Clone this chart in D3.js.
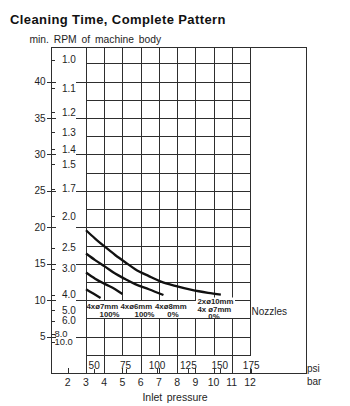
<!DOCTYPE html>
<html>
<head>
<meta charset="utf-8">
<script src="https://cdn.jsdelivr.net/npm/d3@7"></script>
<style>
  html, body { margin: 0; padding: 0; background: #fff; }
  svg { display: block; font-family: "Liberation Sans", Arial, Helvetica, sans-serif; }
</style>
</head>
<body>
<svg id="chart" width="350" height="406"></svg>
<script>
// Inlet pressure in bar, with the psi equivalents printed in the bottom row
const barTicks = [2, 3, 4, 5, 6, 7, 8, 9, 10, 11, 12];
const psiTicks = [50, 75, 100, 125, 150, 175];

// Rotation speed of the machine body and the matching cleaning time (min)
const rpmTicks = [5, 10, 15, 20, 25, 30, 35, 40];
const timeTicks = [1.0, 1.1, 1.2, 1.3, 1.4, 1.5, 1.7, 2.0, 2.5, 3.0, 4.0, 5.0, 6.0, 8.0, 10.0];
const TIME_RPM = 43; // cleaning time (min) = 43 / RPM

// One curve per nozzle set: [inlet pressure (bar), min. RPM]
const rpm4x7 = [[3.0, 11.5], [3.4, 10.9], [3.8, 10.3]];
const rpm4x6 = [[3.0, 13.8], [3.5, 12.95], [4.05, 12.2], [4.6, 11.5], [5.0, 10.85]];
const rpm4x8 = [[3.0, 16.4], [3.5, 15.5], [4.05, 14.6], [4.6, 13.65], [5.15, 12.9],
                [5.7, 12.2], [6.45, 11.5], [7.25, 10.7]];
const rpm2x10 = [[3.0, 19.6], [3.5, 18.45], [4.05, 17.3], [4.6, 16.2], [5.15, 15.2],
                 [5.7, 14.25], [6.45, 13.3], [7.15, 12.5], [7.9, 11.95], [8.8, 11.4],
                 [9.7, 11.0], [10.4, 10.75]];

// Nozzle set names and the share of each set, in the order of the curves above
const nozzleNames = [["4xø7mm"], ["4xø6mm"], ["4xø8mm"], ["2xø10mm", "4x  ø7mm"]];
const nozzleShares = ["100%", "100%", "0%", "0%"];
const rpmCurves = [rpm4x7, rpm4x6, rpm4x8, rpm2x10];

const svg = d3.select("#chart");
const ink = "#1e1e1e";
const rule = "#2e2e2e";

const x = d3.scaleLinear().domain([3, 12]).range([86, 250]);
const y = d3.scaleLinear().domain([0, 44.75]).range([373, 47]);
const psiToBar = p => p / 14.5038;
const crisp = v => Math.round(v) + 0.5;

const frame = { left: 51, right: 306, top: y(44.75), bottom: y(0) };
const gridBars = d3.range(3, 13);
const gridRpm = d3.range(2.5, 43, 2.5);

// outer frame
svg.append("rect")
  .attr("x", crisp(frame.left)).attr("y", crisp(frame.top))
  .attr("width", Math.round(frame.right - frame.left))
  .attr("height", Math.round(frame.bottom - frame.top))
  .attr("fill", "none").attr("stroke", rule);

// grid
const grid = svg.append("g").attr("stroke", rule).attr("stroke-width", 1);
grid.selectAll("line.v").data(gridBars).join("line").attr("class", "v")
  .attr("x1", d => crisp(x(d))).attr("x2", d => crisp(x(d)))
  .attr("y1", crisp(frame.top)).attr("y2", crisp(frame.bottom));
grid.selectAll("line.h").data(gridRpm).join("line").attr("class", "h")
  .attr("x1", crisp(x(3))).attr("x2", crisp(x(12)))
  .attr("y1", d => crisp(y(d))).attr("y2", d => crisp(y(d)));

// blank row for the nozzle captions (between 7.5 and 10 RPM)
svg.append("rect")
  .attr("x", crisp(x(3)) + 0.5).attr("y", crisp(y(10)) + 0.5)
  .attr("width", crisp(x(12)) - crisp(x(3)) - 1)
  .attr("height", crisp(y(7.5)) - crisp(y(10)) - 1)
  .attr("fill", "#fff");

// psi labels in the bottom row, each on a white patch
const rowTop = crisp(y(2.5)) + 0.5;
const rowBottom = crisp(frame.bottom) - 0.5;
const psiG = svg.append("g");
psiTicks.forEach(p => {
  const cx = x(psiToBar(p));
  const bg = psiG.append("rect").attr("fill", "#fff");
  const t = psiG.append("text")
    .attr("x", cx).attr("y", 368.5)
    .attr("text-anchor", "middle").attr("font-size", 10).attr("fill", ink)
    .text(p);
  const w = t.node().getComputedTextLength();
  bg.attr("x", cx - w / 2 - 1).attr("y", rowTop).attr("width", w + 2).attr("height", rowBottom - rowTop);
});

// redraw the grid's left and right edges over the patches
grid.append("line").attr("x1", crisp(x(12))).attr("x2", crisp(x(12)))
  .attr("y1", crisp(frame.top)).attr("y2", crisp(frame.bottom));
grid.append("line").attr("x1", crisp(x(3))).attr("x2", crisp(x(3)))
  .attr("y1", crisp(frame.top)).attr("y2", crisp(frame.bottom));

// psi ticks and bar ticks on the bottom edge
svg.append("g").attr("stroke", rule).selectAll("line").data(psiTicks).join("line")
  .attr("x1", d => crisp(x(psiToBar(d)))).attr("x2", d => crisp(x(psiToBar(d))))
  .attr("y1", frame.bottom - 4).attr("y2", frame.bottom);
svg.append("g").attr("stroke", rule).selectAll("line").data(barTicks).join("line")
  .attr("x1", d => crisp(x(d))).attr("x2", d => crisp(x(d)))
  .attr("y1", frame.bottom - 5).attr("y2", frame.bottom);

// bar labels
svg.append("g").selectAll("text").data(barTicks).join("text")
  .attr("x", d => x(d)).attr("y", 385.5)
  .attr("text-anchor", "middle").attr("font-size", 10.5).attr("fill", ink)
  .text(d => d);

// RPM scale on the left frame, with short leaders into the grid
const rpmG = svg.append("g");
rpmG.append("g").attr("stroke", rule).selectAll("line").data(rpmTicks).join("line")
  .attr("x1", frame.left - 4).attr("x2", frame.left + 5)
  .attr("y1", d => crisp(y(d))).attr("y2", d => crisp(y(d)));
rpmG.append("g").attr("stroke", rule).selectAll("line").data(rpmTicks).join("line")
  .attr("x1", 76).attr("x2", crisp(x(3)))
  .attr("y1", d => crisp(y(d))).attr("y2", d => crisp(y(d)));
rpmG.append("g").selectAll("text").data(rpmTicks).join("text")
  .attr("x", 45.5).attr("y", d => y(d)).attr("dy", "0.36em")
  .attr("text-anchor", "end").attr("font-size", 10).attr("fill", ink)
  .text(d => d);

// cleaning time scale just inside the frame; the crowded low end is set a little smaller
const fmt = d3.format(".1f");
const timeG = svg.append("g");
timeG.append("g").attr("stroke", rule).selectAll("line").data(timeTicks).join("line")
  .attr("x1", frame.left).attr("x2", frame.left + 4)
  .attr("y1", d => crisp(y(TIME_RPM / d))).attr("y2", d => crisp(y(TIME_RPM / d)));
timeG.append("g").selectAll("text").data(timeTicks).join("text")
  .attr("x", d => d >= 8 ? 54.5 : 62)
  .attr("y", d => y(TIME_RPM / d)).attr("dy", "0.36em")
  .attr("font-size", d => d >= 8 ? 9.4 : 10).attr("fill", ink)
  .text(d => fmt(d));

// RPM curves
const line = d3.line().x(d => x(d[0])).y(d => y(d[1])).curve(d3.curveMonotoneX);
svg.append("g").selectAll("path").data(rpmCurves).join("path")
  .attr("d", line)
  .attr("fill", "none").attr("stroke", "#111").attr("stroke-width", 2.3)
  .attr("stroke-linecap", "butt");

// nozzle captions
const capG = svg.append("g").attr("font-size", 7.8).attr("font-weight", "bold").attr("fill", ink)
  .style("white-space", "pre");
const capLeft = [86.5, 120.5, 155, 197.5];
const shareAt = [[119.5, "end"], [154.5, "end"], [173, "middle"], [214, "middle"]];
nozzleNames.forEach((names, i) => {
  if (names.length === 1) {
    capG.append("text").attr("x", capLeft[i]).attr("y", 309.3).text(names[0]);
    capG.append("text").attr("x", shareAt[i][0]).attr("y", 316.6)
      .attr("text-anchor", shareAt[i][1]).text(nozzleShares[i]);
  } else {
    const bg = capG.append("rect").attr("fill", "#fff");
    const t1 = capG.append("text").attr("x", capLeft[i]).attr("y", 303.9).text(names[0]);
    const w = t1.node().getComputedTextLength();
    bg.attr("x", capLeft[i] - 1.5).attr("y", 297.5).attr("width", w + 3).attr("height", 8.5);
    capG.append("text").attr("x", capLeft[i]).attr("y", 311.6).text(names[1]);
    capG.append("text").attr("x", shareAt[i][0]).attr("y", 318.9)
      .attr("text-anchor", shareAt[i][1]).text(nozzleShares[i]);
  }
});

svg.append("text").attr("x", 251.5).attr("y", 314.5)
  .attr("font-size", 10).attr("fill", ink).text("Nozzles");

// unit labels and axis titles
svg.append("text").attr("x", 307).attr("y", 371.5).attr("font-size", 10).attr("fill", ink).text("psi");
svg.append("text").attr("x", 307).attr("y", 384.5).attr("font-size", 10).attr("fill", ink).text("bar");
svg.append("text").attr("x", 175).attr("y", 400.5).attr("text-anchor", "middle")
  .attr("font-size", 10.5).attr("fill", ink).style("word-spacing", "1.5px").text("Inlet pressure");
svg.append("text").attr("x", 29.5).attr("y", 43).attr("font-size", 10.3).attr("fill", ink)
  .style("word-spacing", "2px").text("min. RPM of machine body");

svg.append("text").attr("x", 10).attr("y", 24)
  .attr("font-size", 13).attr("font-weight", "bold").attr("fill", "#111")
  .style("letter-spacing", "0.4px")
  .text("Cleaning Time, Complete Pattern");
</script>
</body>
</html>
